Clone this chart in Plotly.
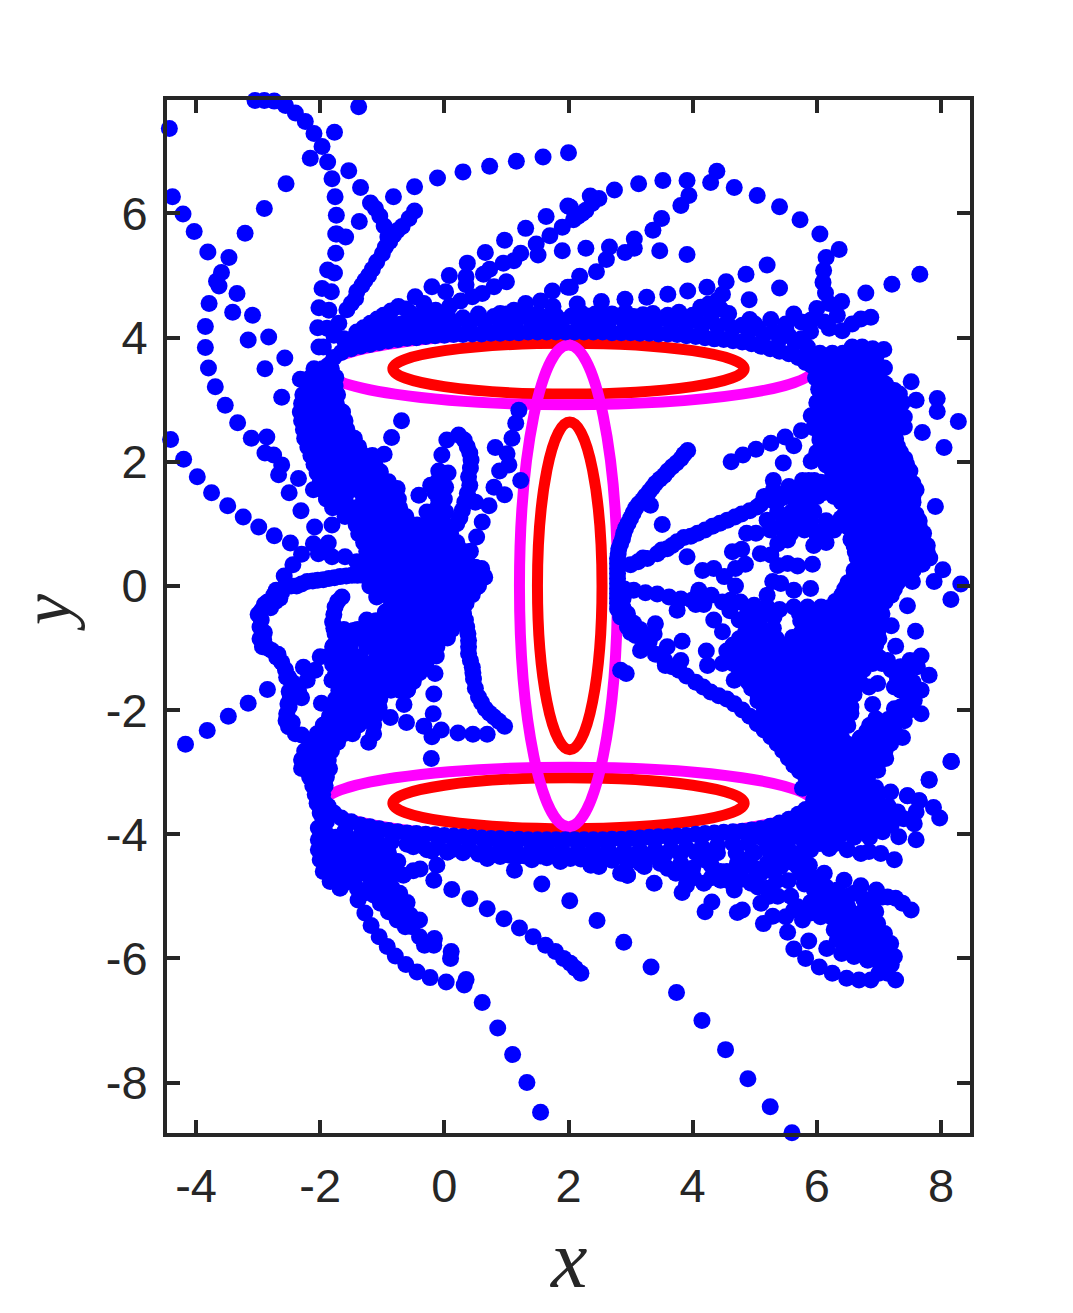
import plotly.graph_objects as go

x_ticks = [-4, -2, 0, 2, 4, 6, 8]
x_tick_labels = ["-4", "-2", "0", "2", "4", "6", "8"]
y_ticks = [-8, -6, -4, -2, 0, 2, 4, 6]
y_tick_labels = ["-8", "-6", "-4", "-2", "0", "2", "4", "6"]

# ellipses: x centre, y centre, x radius, y radius
red_ellipses = [(2, 3.5, 2.83, 0.41), (2, -3.5, 2.83, 0.41), (2.02, 0, 0.52, 2.64)]
magenta_ellipses = [(2, 3.5, 3.95, 0.58), (2, -3.5, 3.95, 0.58), (2, 0, 0.79, 3.88)]

top_left_points = [
 (-3.05,7.82),(-2.90,7.82),(-2.74,7.81),(-2.56,7.74),(-2.40,7.62),(-2.24,7.48),(-2.10,7.29),(-1.97,7.08),(-1.88,6.83),(-1.81,6.56),
 (-1.76,6.27),(-1.74,5.97),(-1.75,5.67),(-1.75,5.36),(-1.77,5.04),(-1.82,4.74),(-1.86,4.44),(-1.89,4.15),(-1.95,3.85),
 (-2.16,6.89),(-1.88,5.09),(-1.97,4.79),(-2.02,4.48),(-2.04,4.16),(-2.02,3.85),(-1.73,5.67),(-1.59,5.62),
 (-1.38,7.72),(-4.43,7.37),(-1.77,7.31),(-1.54,6.69),(-1.35,6.42),
 (-1.19,6.17),(-1.11,6.08),(-1.04,5.96),(-0.97,5.80),(-0.91,5.62),(-0.48,6.04),(-0.57,5.92),(-0.68,5.79),(-0.82,5.65),(-0.95,5.46),
 (-1.0,5.35),(-1.09,5.22),(-1.22,5.0),(-1.33,4.84),(-1.41,4.74),(-1.43,4.63),(-1.57,4.45),(-1.70,4.23),(-1.78,4.04),(-1.37,5.87),
 (-1.16,5.1),(-1.28,4.92),(-1.5,4.55),(-0.88,5.55),(-0.76,5.72),
 (-4.38,6.27),(-4.21,5.99),(-4.03,5.71),(-3.81,5.38),(-3.47,5.29),(-3.59,5.05),(-3.67,4.91),(-3.63,4.83),(-3.79,4.55),(-3.85,4.18),
 (-3.85,3.84),(-3.80,3.51),(-3.69,3.21),(-3.53,2.91),(-3.21,5.68),(-2.90,6.08),(-2.55,6.48),
 (-0.82,6.27),(-0.48,6.43),(-0.11,6.57),(0.30,6.67),(0.73,6.76),(1.16,6.84),(1.59,6.91),(2.0,6.98),
 (-3.34,4.71),(-3.41,4.41),(-3.09,4.36),(-3.16,3.96),(-2.83,4.01),(-2.57,3.67),(-2.89,3.50),(-2.62,3.04),(-2.32,3.33),
]
top_ray_points = [
 (1.0,4.9),(0.80,4.82),(0.61,4.71),(0.45,4.66),(0.26,4.59),(0.09,4.51),(-0.14,4.44),(-0.33,4.55),(-0.47,4.66),
 (1.23,5.36),(1.12,5.24),(0.95,5.2),(0.73,5.1),(0.63,5.02),
 (1.64,5.95),(1.31,5.76),(0.97,5.57),(0.66,5.37),(0.37,5.2),(0.08,5.0),(-0.2,4.82),(0.35,4.98),(0.35,4.85),(0.02,4.74),
 (1.99,6.12),(1.9,5.78),(1.7,5.64),(1.48,5.51),(1.51,5.33),(1.9,5.4),(1.99,4.81),(1.74,4.75),(1.55,4.59),(1.75,4.5),(1.31,4.55),
 (1.12,4.44),(0.9,4.39),(0.53,4.32),(0.12,4.25),(-0.25,4.18),(-0.74,4.5),(-0.98,4.36),(-1.19,4.23),(-1.41,4.09),(-1.62,3.98),
 (-0.55,4.4),(-0.3,4.3),(-0.86,4.43),(-1.08,4.3),(-1.3,4.16),(-0.62,4.46),(-0.45,4.35),
 (2.74,6.38),(3.13,6.48),(3.52,6.53),(3.91,6.53),(4.29,6.5),(4.39,6.68),(4.67,6.42),(5.04,6.29),(5.40,6.11),(5.73,5.9),(6.05,5.67),
 (6.36,5.42),(6.15,5.29),(6.11,5.08),(6.1,4.89),(6.14,4.72),(6.2,4.55),(6.4,4.58),(6.79,4.72),(7.21,4.86),(7.66,5.02),(6.87,4.33),
 (6.71,4.3),(6.57,4.22),(6.41,4.11),(6.0,4.47),(6.33,4.36),(5.63,4.38),(5.26,4.29),(4.92,4.29),(4.91,4.61),(5.4,4.8),(5.2,5.17),
 (4.86,5.02),(4.54,4.9),(4.23,4.81),(3.92,4.75),(3.6,4.7),(3.26,4.65),(2.91,4.62),(2.53,4.58),(2.14,4.54),(4.48,4.7),(4.4,4.6),
 (4.26,4.54),(4.13,4.49),(4.58,4.39),(4.45,4.46),(3.78,4.41),(3.36,4.39),(2.92,4.41),(2.43,4.38),
 (3.91,5.34),(3.47,5.4),(3.06,5.44),(3.06,5.59),(2.91,5.37),(2.66,5.46),(2.61,5.26),(2.45,5.06),(2.28,5.44),(2.18,4.99),(2.03,4.81),
 (3.36,5.73),(3.5,5.92),(3.81,6.13),(3.94,6.29),(2.35,6.28),(2.49,6.24),(2.38,6.16),(2.22,6.0),(2.08,5.9),(2.03,6.1),
 (2.28,6.05),(2.15,5.95),(5.95,4.3),(6.12,4.25),(6.2,4.15),(5.75,4.25),(5.5,4.22),
]
top_rim_points = [
 (-1.87,3.55),(-1.78,3.68),(-1.66,3.76),(-1.5,3.82),(-1.35,3.86),(-1.2,3.89),(-1.05,3.92),(-0.9,3.95),(-0.75,3.97),(-0.6,3.99),(-0.45,4.0),
 (-0.3,4.02),(-0.15,4.03),(0,4.04),(0.15,4.05),(0.3,4.05),(0.45,4.06),(0.6,4.06),(0.75,4.07),(0.9,4.07),(1.05,4.08),(1.2,4.08),(1.35,4.09),
 (1.5,4.09),(1.65,4.09),(1.8,4.09),(1.95,4.09),(2.1,4.09),(2.25,4.09),(2.4,4.09),(2.55,4.09),(2.7,4.08),(2.85,4.08),(3.0,4.08),(3.15,4.07),
 (3.3,4.07),(3.45,4.06),(3.6,4.06),(3.75,4.05),(3.9,4.03),(4.05,4.02),(4.2,4.0),(4.35,3.98),(4.5,3.97),(4.65,3.95),(4.8,3.93),(4.95,3.9),
 (5.1,3.86),(5.25,3.82),(5.4,3.78),(5.55,3.74),(5.7,3.68),(5.82,3.6),
 (-1.6,3.95),(-1.35,4.02),(-1.1,4.08),(-0.85,4.12),(-0.6,4.15),(-0.35,4.18),(-0.1,4.2),(0.15,4.21),(0.4,4.23),(0.65,4.24),(0.9,4.25),(1.15,4.25),
 (1.4,4.26),(1.65,4.26),(1.9,4.27),(2.15,4.27),(2.4,4.27),(2.65,4.26),(2.9,4.26),(3.15,4.25),(3.4,4.24),(3.65,4.23),(3.9,4.21),(4.15,4.2),
 (4.4,4.18),(4.65,4.15),(4.9,4.1),(5.15,4.05),(5.4,3.98),(5.65,3.92),(5.85,3.85),
 (-1.45,4.0),(-1.2,4.1),(-0.95,4.17),(-0.7,4.22),(-0.45,4.26),(-0.2,4.28),(0.05,4.3),(0.3,4.32),(0.55,4.33),(0.8,4.34),(1.05,4.34),(1.3,4.35),
 (1.55,4.35),(1.8,4.35),(2.05,4.35),(2.3,4.35),(2.55,4.35),(2.8,4.35),(3.05,4.34),(3.3,4.33),(3.55,4.32),(3.8,4.31),(4.05,4.3),(4.3,4.27),
 (4.55,4.24),(4.8,4.2),(5.05,4.15),(5.3,4.1),(5.55,4.03),(5.75,3.98),
 (-0.9,4.28),(-0.4,4.33),(0.05,4.36),(0.55,4.38),(1.0,4.38),(1.5,4.38),(2.2,4.4),(2.7,4.38),(3.2,4.37),(3.6,4.36),(4.0,4.36),(4.3,4.36),(5.0,4.22),(5.5,4.15),(5.9,4.1),(5.9,4.28),
]
right_outer_points = [
 (7.52,3.29),(7.6,2.99),(7.94,3.02),(7.94,2.81),(8.28,2.65),(7.7,2.47),(8.05,2.23),(7.08,3.81),(6.9,3.82),(6.73,3.85),(6.57,3.85),
 (6.65,3.74),(6.95,3.68),(7.09,3.51),(6.9,3.36),(7.11,3.25),(7.33,3.09),(7.41,2.72),(7.41,2.56),(7.27,2.37),
 (6.03,3.17),(6.01,2.96),(5.91,2.74),(5.75,2.5),(5.49,2.4),(5.26,2.3),(5.02,2.2),(4.81,2.11),(4.62,2.0),(5.63,2.26),(5.91,2.01),(5.46,1.98),(5.3,1.7),
 (8.03,0.26),(7.89,0.07),(8.32,0.03),(8.16,-0.22),(7.54,0.07),(7.46,-0.32),(7.91,1.28),(7.2,-0.64),(7.59,-0.73),(7.27,-0.97),(7.68,-1.13),(7.81,-1.44),
 (8.16,-2.83),(7.81,-3.13),(7.46,-3.38),(7.65,-3.46),
]
right_ray_points = [
 (3.92,2.18),(3.81,2.05),(3.67,1.92),(3.54,1.78),(3.4,1.65),(3.3,1.52),(3.19,1.38),(3.08,1.25),(3.0,1.09),(2.92,0.93),(2.87,0.76),(2.81,0.6),
 (2.79,0.44),(2.79,0.28),(2.79,0.12),(2.79,-0.04),(2.79,-0.2),(2.79,-0.37),(2.84,-0.5),(2.95,-0.66),(3.08,-0.8),(3.32,1.3),(3.51,0.99),
 (3.86,2.12),(3.74,1.98),(3.6,1.85),(3.47,1.72),(3.35,1.58),(3.24,1.45),(3.13,1.32),(3.04,1.17),(2.96,1.01),(2.89,0.85),(2.84,0.68),(2.8,0.52),(2.79,0.36),(2.79,0.2),
 (2.79,0.04),(2.79,-0.12),(2.79,-0.28),(2.88,-0.2),(2.9,-0.05),(2.88,-0.35),(2.95,-0.45),(3.05,-0.6),(3.15,-0.7),(3.0,-0.75),
 (3.0,0.34),(3.12,0.39),(3.27,0.44),(3.43,0.52),(3.59,0.6),(3.75,0.71),(3.91,0.47),(3.86,0.78),(4.08,0.85),(4.32,0.96),(4.56,1.06),(4.79,1.16),(5.04,1.27),
 (5.15,1.44),(5.42,1.41),(5.58,1.44),(5.77,1.7),(5.96,1.7),(6.17,1.65),(6.28,1.44),(5.85,1.33),(6.01,1.44),(5.2,1.06),(5.37,1.19),(4.87,0.85),(5.02,0.85),
 (5.77,1.03),(5.9,1.06),(5.58,0.85),(5.8,0.9),(6.01,0.79),(6.28,0.9),(6.39,1.09),(5.37,0.68),(5.53,0.74),(4.64,0.55),(4.79,0.59),(5.09,0.52),(5.26,0.5),
 (3.2,0.45),(3.5,0.58),(3.67,0.65),(3.97,0.8),(4.2,0.9),(4.44,1.01),(4.68,1.11),(4.92,1.21),(5.1,1.32),(5.3,1.37),(5.5,1.44),(5.68,1.55),(5.87,1.7),(6.06,1.67),
 (5.7,0.95),(5.48,0.8),(5.95,1.2),(6.15,1.05),(6.1,0.85),(5.45,1.0),(5.9,1.55),(5.7,1.4),
 (5.3,1.55),(5.55,1.6),(5.75,1.5),(6.1,1.5),(5.6,1.2),(5.75,1.15),(5.65,1.05),(5.9,0.95),(6.15,0.95),(5.95,0.65),(6.15,0.7),(5.25,0.9),
 (5.37,0.33),(5.53,0.36),(5.69,0.32),(5.93,0.35),(4.85,0.35),(4.69,0.28),(4.16,0.25),(4.34,0.28),(4.51,0.15),(4.69,0),(5.29,0.07),(5.42,0.04),(5.63,-0.07),
 (5.9,-0.04),(5.2,-0.15),(4.1,-0.07),(3.05,-0.07),(3.24,-0.11),(3.43,-0.13),(3.62,-0.18),(3.81,-0.21),(3.99,-0.23),(4.18,-0.3),(4.48,-0.26),(3.75,-0.39),
 (4.61,-0.23),(4.77,-0.26),(4.99,-0.31),(5.2,-0.34),(4.34,-0.55),(4.48,-0.74),(4.75,-0.55),(4.88,-0.45),(5.1,-0.5),(5.31,-0.5),(5.63,-0.34),(5.85,-0.34),
 (4.08,-0.15),(4.3,-0.15),(4.05,-0.3),(4.6,-0.4),(5.0,-0.45),(5.4,-0.38),(5.72,-0.45),(5.95,-0.5),(4.9,-0.65),(5.1,-0.68),(5.3,-0.68),
 (6.07,-0.34),(5.74,-0.56),(3.16,-1.04),(3.38,-0.77),(3.22,-0.82),(3.4,-0.61),(3.3,-0.9),(3.83,-0.89),(3.59,-0.98),(3.56,-1.28),(3.81,-1.2),(3.78,-1.36),
 (3.9,-1.45),(4.05,-1.55),(4.29,-1.71),(4.55,-1.82),(4.8,-2.0),(5.04,-2.22),(5.26,-2.43),(5.45,-2.65),(5.63,-2.89),(5.82,-3.08),(2.84,-1.36),(2.93,-1.41),
 (3.4,-1.1),(3.55,-1.2),(4.22,-1.05),(4.24,-1.28),(4.48,-1.25),(4.67,-1.52),(5.61,-0.83),(3.67,-1.3),(4.17,-1.63),(4.42,-1.77),(4.67,-1.9),(4.92,-2.1),(5.15,-2.32),
 (5.36,-2.54),(5.54,-2.77),(5.72,-2.98),
 (6.98,-1.57),(6.84,-1.63),(6.9,-1.91),(6.95,-2.14),(7.25,-1.98),(7.68,-2.06),(7.35,-1.3),(7.62,-1.3),(7.45,-1.35),(7.68,-1.68),(7.57,-1.84),(7.35,-1.68),
 (7.25,-1.63),(7.41,-2.17),(7.38,-2.44),(7.19,-2.54),(7.11,-2.78),(6.98,-2.97),(6.82,-3.08),(6.66,-3.24),(7.03,-2.38),(7.14,-1.2),(7.45,-1.5),(7.5,-2.0),
 (7.2,-2.2),(7.05,-2.5),(7.2,-1.35),(7.3,-1.5),(7.5,-1.2),(7.55,-1.55),(7.45,-1.75),(7.35,-1.95),(7.4,-2.05),(7.25,-2.35),(7.1,-2.65),(6.9,-2.85),(6.75,-3.0),
]
right_block_rows = [
 (3.75,[5.85,6.05,6.25,6.42]),
 (3.65,[5.95,6.15,6.35,6.75]),
 (3.55,[5.92,6.1,6.3,6.5,6.7,6.85]),
 (3.45,[6.0,6.2,6.4,6.6,6.8,6.95]),
 (3.35,[5.98,6.2,6.4,6.6,6.8,7.0]),
 (3.25,[6.1,6.3,6.5,6.7,6.9,7.1]),
 (3.15,[6.05,6.25,6.45,6.65,6.85,7.05,7.25]),
 (3.05,[6.1,6.3,6.5,6.7,6.9,7.1,7.3]),
 (2.95,[6.0,6.2,6.4,6.6,6.8,7.0,7.2,7.38]),
 (2.85,[6.1,6.3,6.5,6.7,6.9,7.1,7.3]),
 (2.75,[6.0,6.2,6.4,6.6,6.8,7.0,7.2]),
 (2.65,[6.1,6.3,6.5,6.7,6.9,7.1,7.3]),
 (2.55,[5.95,6.15,6.35,6.55,6.75,6.95,7.15,7.3]),
 (2.45,[6.05,6.25,6.45,6.65,6.85,7.05]),
 (2.35,[6.05,6.25,6.45,6.65,6.85,7.05,7.22]),
 (2.25,[6.1,6.3,6.5,6.7,6.9,7.1,7.3]),
 (2.15,[6.0,6.2,6.4,6.6,6.8,7.0,7.2,7.35]),
 (2.05,[6.1,6.3,6.5,6.7,6.9,7.1,7.3,7.42]),
 (1.95,[6.15,6.35,6.55,6.75,6.95,7.15,7.35,7.45]),
 (1.85,[6.25,6.45,6.65,6.85,7.05,7.25,7.5]),
 (1.75,[6.25,6.45,6.65,6.85,7.05,7.25,7.45]),
 (1.65,[6.3,6.55,6.75,6.95,7.15,7.35,7.55]),
 (1.55,[6.3,6.5,6.7,6.9,7.1,7.3,7.5,7.6]),
 (1.45,[6.4,6.6,6.8,7.0,7.2,7.4,7.55]),
 (1.35,[6.4,6.6,6.8,7.0,7.2,7.4,7.55]),
 (1.25,[6.5,6.7,6.9,7.1,7.3,7.5]),
 (1.15,[6.45,6.65,6.85,7.05,7.25,7.45,7.6]),
 (1.05,[6.55,6.75,6.95,7.15,7.35,7.55,7.65]),
 (0.95,[6.5,6.7,6.9,7.1,7.3,7.5,7.65]),
 (0.85,[6.6,6.8,7.0,7.2,7.4,7.6,7.72]),
 (0.75,[6.55,6.75,6.95,7.15,7.35,7.55,7.7]),
 (0.65,[6.6,6.8,7.0,7.2,7.4,7.6,7.78]),
 (0.55,[6.62,6.85,7.05,7.25,7.45,7.65,7.78]),
 (0.45,[6.65,6.9,7.1,7.3,7.5,7.7,7.82]),
 (0.35,[6.7,6.9,7.1,7.3,7.5,7.7]),
 (0.25,[6.6,6.8,7.0,7.2,7.4,7.55]),
 (0.15,[6.6,6.8,7.0,7.2,7.38]),
 (0.05,[6.5,6.7,6.9,7.1,7.3]),
 (-0.05,[6.45,6.65,6.85,7.05,7.25]),
 (-0.15,[6.4,6.6,6.8,7.0,7.2]),
 (-0.25,[6.3,6.5,6.7,6.9,7.1]),
 (-0.35,[6.2,6.4,6.6,6.8,7.0]),
 (-0.45,[6.15,6.35,6.55,6.75,6.95,7.05]),
 (-0.55,[6.05,6.25,6.45,6.65,6.85,7.0]),
 (-0.65,[5.85,6.05,6.3,6.5,6.7,6.9,7.0]),
 (-0.75,[4.85,5.05,5.25,5.75,5.95,6.15,6.4,6.6,6.8,6.98]),
 (-0.85,[4.75,4.95,5.15,5.35,5.85,6.05,6.25,6.45,6.65,6.85,7.0]),
 (-0.95,[4.65,4.85,5.05,5.3,5.5,5.7,5.9,6.1,6.35,6.55,6.75,6.95]),
 (-1.05,[4.55,4.75,4.95,5.2,5.4,5.6,5.8,6.0,6.2,6.45,6.65,6.85]),
 (-1.15,[4.6,4.8,5.0,5.2,5.4,5.6,5.8,6.0,6.2,6.4,6.6,6.8,7.0]),
 (-1.25,[4.65,4.85,5.05,5.25,5.45,5.65,5.85,6.05,6.25,6.45,6.7,6.9,7.05]),
 (-1.35,[4.75,4.95,5.15,5.35,5.55,5.75,5.95,6.15,6.35,6.55,6.75]),
 (-1.45,[4.8,5.0,5.2,5.4,5.6,5.8,6.0,6.25,6.45,6.65]),
 (-1.55,[4.9,5.1,5.3,5.5,5.7,5.9,6.1,6.3,6.5,6.7]),
 (-1.65,[4.95,5.15,5.35,5.55,5.75,5.95,6.15,6.35,6.6]),
 (-1.75,[5.05,5.25,5.45,5.65,5.85,6.05,6.25,6.45,6.6]),
 (-1.85,[5.05,5.25,5.45,5.65,5.85,6.05,6.25,6.45]),
 (-1.95,[5.15,5.35,5.55,5.75,5.95,6.15,6.35,6.55]),
 (-2.05,[5.15,5.35,5.55,5.75,5.95,6.15,6.35,6.55]),
 (-2.15,[5.25,5.45,5.65,5.85,6.05,6.25,6.45,6.95,7.15]),
 (-2.25,[5.3,5.5,5.7,5.9,6.1,6.3,6.5,6.85,7.05]),
 (-2.35,[5.35,5.55,5.75,5.95,6.15,6.35,6.8,7.0,7.2]),
 (-2.45,[5.4,5.6,5.8,6.0,6.2,6.4,6.7,6.9]),
 (-2.55,[5.5,5.7,5.9,6.1,6.3,6.5,6.75,7.0]),
 (-2.65,[5.55,5.75,5.95,6.15,6.35,6.55,6.75,6.95]),
 (-2.75,[5.65,5.85,6.05,6.25,6.45,6.6,6.85]),
 (-2.85,[5.7,5.9,6.1,6.3,6.5,6.8]),
 (-2.95,[5.8,6.0,6.2,6.4,6.6,6.7]),
 (-3.05,[5.9,6.1,6.3,6.5,6.65]),
 (-3.15,[5.95,6.15,6.35,6.55,6.8]),
 (-3.25,[5.95,6.15,6.35,6.55,6.75,6.95]),
 (-3.35,[6.0,6.2,6.4,6.6,6.8,7.0]),
 (-3.45,[5.95,6.15,6.35,6.55,6.75,6.95]),
 (-3.55,[5.95,6.15,6.35,6.55,6.75,6.95,7.15]),
 (-3.65,[5.85,6.05,6.25,6.45,6.65,6.85,7.05,7.3]),
 (-3.75,[5.75,5.95,6.15,6.35,6.55,6.75,6.95,7.15,7.4]),
 (-3.85,[5.6,5.8,6.0,6.2,6.4,6.6,6.8,7.0,7.2]),
 (-3.95,[5.3,5.5,5.7,5.9,6.1,6.3,6.5,6.7,6.9]),
 (-4.05,[5.1,5.35,5.6,5.85,6.1,6.35,6.6,6.85]),
 (-4.15,[4.9,5.2,5.5,5.8,6.05,6.3]),
 (-4.3,[4.4,4.7,5.0,5.25,5.55,5.75]),
]
bottom_rim_points = [
 (-1.87,-3.55),(-1.78,-3.66),(-1.66,-3.74),(-1.5,-3.8),(-1.35,-3.85),(-1.2,-3.88),(-1.05,-3.91),(-0.9,-3.94),(-0.75,-3.96),(-0.6,-3.98),(-0.45,-3.99),
 (-0.3,-4.0),(-0.15,-4.01),(0,-4.02),(0.15,-4.03),(0.3,-4.04),(0.45,-4.05),(0.6,-4.06),(0.75,-4.07),(0.9,-4.07),(1.05,-4.08),(1.2,-4.08),(1.35,-4.09),
 (1.5,-4.09),(1.65,-4.09),(1.8,-4.09),(1.95,-4.09),(2.1,-4.09),(2.25,-4.09),(2.4,-4.09),(2.55,-4.09),(2.7,-4.08),(2.85,-4.08),(3.0,-4.07),(3.15,-4.06),
 (3.3,-4.05),(3.45,-4.04),(3.6,-4.04),(3.75,-4.03),(3.9,-4.02),(4.05,-4.0),(4.2,-3.99),(4.35,-3.98),(4.5,-3.97),(4.65,-3.96),(4.8,-3.95),(4.95,-3.93),
 (5.1,-3.91),(5.25,-3.87),(5.4,-3.82),(5.55,-3.76),(5.7,-3.68),(5.82,-3.6),
 (-1.6,-3.95),(-1.35,-4.02),(-1.1,-4.08),(-0.85,-4.12),(-0.6,-4.16),(-0.35,-4.19),(-0.1,-4.2),(0.15,-4.22),(0.4,-4.23),(0.65,-4.24),(0.9,-4.25),(1.15,-4.26),
 (1.4,-4.26),(1.65,-4.26),(1.9,-4.27),(2.15,-4.27),(2.4,-4.27),(2.65,-4.27),(2.9,-4.27),(3.15,-4.26),(3.4,-4.25),(3.65,-4.24),(3.9,-4.22),(4.15,-4.2),
 (4.4,-4.18),(4.65,-4.15),(4.9,-4.1),(5.15,-4.05),
 (-0.2,-4.27),(0.05,-4.29),(0.3,-4.3),(0.55,-4.32),(0.8,-4.33),(1.05,-4.34),(1.3,-4.35),(1.55,-4.35),(1.8,-4.35),(2.05,-4.36),(2.3,-4.36),(2.55,-4.36),
 (2.8,-4.36),(3.05,-4.35),(3.3,-4.34),(3.55,-4.33),(3.8,-4.32),(4.05,-4.3),(4.3,-4.28),
 (0.69,-4.39),(0.9,-4.36),(1.41,-4.41),(1.87,-4.44),(2.03,-4.39),(2.36,-4.5),(2.49,-4.52),(2.84,-4.63),(2.95,-4.66),(2.95,-4.45),(-0.5,-4.2),(-0.28,-4.25),(0.12,-4.25),
 (1.2,-4.35),(1.65,-4.38),(2.2,-4.4),(2.7,-4.42),(3.05,-4.4),
]
bottom_left_points = [
 (1.55,-8.48),(1.33,-8.0),(1.1,-7.55),(0.86,-7.12),(0.61,-6.71),(0.35,-6.34),(0.32,-6.43),(0.03,-6.38),(-0.23,-6.31),(-0.44,-6.22),(-0.62,-6.1),
 (-0.79,-5.96),(-0.92,-5.81),(-1.05,-5.65),(-1.18,-5.47),(-1.28,-5.27),(-1.39,-5.06),
 (2.2,-6.24),(2.11,-6.16),(2.03,-6.08),(1.92,-6.0),(1.79,-5.89),(1.63,-5.79),(1.43,-5.65),(1.21,-5.51),(0.96,-5.36),(0.69,-5.2),(0.41,-5.04),(0.12,-4.89),
 (-0.17,-4.74),(-0.12,-4.5),(-0.39,-4.56),(-0.5,-4.59),(-0.66,-4.66),(-0.75,-4.44),
 (1.13,-4.58),(1.57,-4.8),(2.02,-5.07),(2.46,-5.39),(2.89,-5.74),(3.33,-6.14),(3.74,-6.55),(4.15,-7.0),(4.53,-7.47),(4.89,-7.94),(5.25,-8.39),(5.6,-8.81),
 (0.11,-5.89),(0.1,-6.0),(-0.16,-5.68),(-0.17,-5.79),(-0.32,-5.79),(-0.4,-5.65),(-0.4,-5.38),(-0.52,-5.49),(-0.63,-5.49),(-0.76,-5.38),(-0.9,-5.25),
 (-1.03,-5.11),(-1.14,-4.98),(-0.66,-5.17),(-0.77,-5.0),(-0.93,-4.82),(-1.09,-4.63),(-1.46,-4.74),(-1.68,-4.87),(-1.84,-4.76),(-1.95,-4.6),(-2.0,-4.41),
 (-2.03,-4.25),(-2.03,-4.09),(-2.03,-3.9),(-2.0,-3.66),(-1.3,-4.95),(-1.46,-4.52),(-1.68,-4.57),(-1.68,-4.31),(-1.41,-4.31),(-1.14,-4.41),(-1.03,-4.52),
 (-0.87,-4.68),(-1.85,-4.2),(-1.85,-4.45),(-1.55,-4.15),(-1.25,-4.2),(-1.25,-4.65),(-1.55,-4.65),
 (-0.55,-5.3),(-0.7,-5.32),(-0.85,-5.12),(-1.0,-4.95),(-1.12,-4.82),(-0.98,-4.72),(-0.85,-4.85),(-0.72,-4.95),(-0.6,-5.1),
 (-1.9,-3.8),(-1.9,-4.0),(-1.75,-4.05),(-1.75,-4.2),(-1.9,-4.35),(-1.75,-4.45),(-1.9,-4.6),(-1.75,-4.68),(-1.6,-4.78),(-1.4,-4.88),(-1.2,-4.85),
 (-1.6,-4.05),(-1.45,-4.1),(-1.3,-4.1),(-1.15,-4.22),(-1.0,-4.25),(-0.9,-4.3),(-1.6,-4.25),(-1.45,-4.22),(-1.3,-4.3),(-1.55,-4.42),(-1.4,-4.45),(-1.25,-4.45),
 (-1.1,-4.32),(-0.95,-4.42),(-1.6,-4.52),(-1.35,-4.6),(-1.2,-4.55),(-1.1,-4.75),(-1.45,-4.62),(-0.85,-4.52),
]
bottom_right_points = [
 (5.77,-3.26),(7.81,-3.12),(8.17,-2.83),(7.19,-3.32),(7.46,-3.38),(7.65,-3.46),(7.88,-3.57),(7.98,-3.74),(7.6,-3.64),(7.57,-3.83),(7.6,-4.09),(7.32,-4.04),
 (7.06,-3.96),(7.3,-3.64),(6.87,-3.5),(7.25,-4.41),(7.03,-4.31),(6.84,-4.28),(6.71,-4.31),(6.49,-4.25),(6.2,-4.23),
 (7.52,-5.22),(7.38,-5.11),(7.27,-5.03),(7.14,-5.01),(7.06,-5.01),(6.96,-4.9),(6.71,-4.83),(6.44,-4.74),(6.12,-4.63),(5.88,-4.5),(5.69,-4.52),
 (7.27,-6.35),(6.87,-6.35),(6.68,-6.35),(6.48,-6.32),(6.25,-6.24),(6.04,-6.14),(5.82,-6.0),(5.63,-5.85),(5.87,-5.72),(5.53,-5.58),(6.16,-5.84),(6.4,-5.92),
 (6.6,-5.97),(6.82,-6.03),(7.0,-6.24),(7.14,-6.24),(7.25,-5.97),(7.19,-5.76),(7.09,-5.6),(6.98,-5.44),(6.84,-5.25),(6.76,-5.06),(6.6,-4.95),(7.05,-6.1),
 (6.98,-5.92),(6.82,-5.87),(6.6,-5.81),(6.33,-5.7),(6.28,-5.54),(6.5,-5.65),(6.71,-5.65),(6.87,-5.65),(6.6,-5.44),(6.39,-5.33),(6.71,-5.27),(6.5,-5.17),
 (6.23,-5.33),(6.06,-5.33),(5.9,-5.27),(5.77,-5.38),(5.63,-5.22),(5.5,-5.33),(5.29,-5.32),(5.14,-5.44),(5.1,-5.11),(5.23,-5.0),(5.37,-5.0),(5.2,-4.87),
 (5.58,-5.0),(5.69,-5.17),(6.06,-5.06),(6.17,-5.06),(5.96,-4.9),(5.74,-4.63),(6.06,-4.74),(6.33,-4.9),(6.5,-5.0),(6.3,-5.1),(6.85,-5.45),(6.7,-5.45),
 (6.85,-5.05),(6.95,-5.25),(7.0,-5.7),(7.12,-5.95),(7.2,-6.1),(7.1,-5.8),(6.95,-5.55),(6.75,-5.75),(6.45,-5.8),(6.45,-5.5),(6.6,-5.6),(6.85,-5.98),(7.0,-6.05),
 (6.45,-5.05),(6.25,-5.0),(6.15,-4.85),(5.95,-4.7),(5.8,-4.8),(5.9,-5.1),(6.35,-5.2),(6.55,-5.3),(6.1,-5.2),(6.9,-5.12),(6.8,-5.4),
 (5.54,-4.75),(4.8,-5.22),(4.72,-5.26),(4.31,-5.09),(4.2,-5.25),(3.83,-4.94),(3.38,-4.79),(2.95,-4.66),(3.22,-4.52),(3.73,-4.63),(3.91,-4.68),(4.18,-4.79),
 (4.45,-4.74),(4.67,-4.9),(4.94,-4.79),(5.1,-4.63),(4.77,-4.58),(4.45,-4.6),(5.42,-4.52),(5.2,-4.47),(4.72,-4.47),(4.18,-4.41),(3.81,-4.47),(3.48,-4.47),
 (3.16,-4.47),(4.0,-4.55),(4.3,-4.5),(4.9,-4.4),(5.4,-4.25),(5.6,-4.3),(5.9,-4.25),
 (4.3,-4.7),(4.58,-4.75),(4.8,-4.72),(4.55,-4.6),(5.0,-4.55),(5.3,-4.6),(5.6,-4.45),(5.05,-4.85),(5.35,-4.75),(5.35,-4.4),(3.9,-4.82),(4.02,-4.7),(3.6,-4.55),
]
left_outer_points = [
 (-2.86,2.4),(-3.11,2.38),(-3.33,2.63),(-2.89,2.14),(-2.75,2.11),(-2.62,1.95),(-2.67,1.79),(-2.35,1.73),(-2.5,1.5),(-2.31,1.21),(-2.11,1.55),(-2.09,0.95),
 (-4.41,2.36),(-4.2,2.04),(-3.98,1.76),(-3.75,1.5),(-3.49,1.29),(-3.24,1.11),(-2.99,0.95),(-2.74,0.81),(-2.48,0.69),(-2.3,0.51),(-2.44,0.34),(-2.58,0.16),
 (-2.71,-0.07),(-2.85,-0.26),(-3,-0.46),(-2.97,-0.66),(-2.91,-0.87),(-2.78,-1.04),(-2.62,-1.23),(-2.51,-1.47),(-2.38,-1.63),(-2.48,-1.79),(-2.54,-2.06),
 (-2.51,-2.27),(-2.4,-2.38),(-2.85,-1.67),(-3.16,-1.89),(-3.48,-2.1),(-3.82,-2.33),(-4.17,-2.55),
 (-2.55,0.02),(-2.65,-0.2),(-2.8,-0.35),(-2.95,-0.55),(-2.85,-1.0),(-2.7,-1.15),(-2.45,-1.55),(-2.5,-1.95),(-2.45,-2.2),(-2.9,-0.75),(-2.95,-0.4),(-2.93,-0.98),
 (-2.75,-0.15),(-2.47,0.0),(-2.56,-1.35),(-2.5,-1.7),(-2.52,-1.9),(-2.55,-2.17),(-2.3,-1.8),(-2.3,-2.4),(-2.9,-0.3),(-2.97,-0.85),(-2.68,-1.1),(-2.72,-0.25),(-2.62,-0.1),
 (-2.11,0.68),(-1.87,0.69),(-2.03,0.52),(-1.81,0.47),(-1.6,0.47),(-1.41,0.39),(-1.22,0.33),(-1.81,0.98),
 (-2.38,0),(-2.21,0.07),(-2.04,0.09),(-1.86,0.12),(-1.68,0.15),(-1.49,0.17),(-1.3,0.17),(-2.3,0.03),(-2.12,0.08),(-1.95,0.1),(-1.77,0.13),(-1.58,0.16),(-1.4,0.17),
 (-1.65,-0.18),(-1.76,-0.34),(-1.8,-0.58),(-1.76,-0.77),(-1.78,-0.96),(-1.46,-0.72),(-1.25,-0.55),(-1.09,-0.18),(-2,-1.14),(-2.27,-1.31),(-2.08,-1.36),
 (-2.54,-1.47),(-2.21,-1.52),(-2.35,-1.68),(-1.98,-1.89),(-1.81,-1.52),(-1.73,-1.31),(-1.68,-1.09),(-1.49,-1.31),(-1.35,-1.14),(-1.25,-0.98),(-1.62,-0.7),
 (-1.72,-0.25),(-1.78,-0.46),(-1.78,-0.68),
 (-0.82,-1.63),(-0.59,-1.67),(-0.65,-1.91),(-0.87,-2.12),(-0.61,-2.2),(-0.33,-2.26),(-0.2,-2.43),(-0.05,-2.32),(0.22,-2.37),(0.46,-2.39),(0.69,-2.39),
 (-0.21,-2.78),(-0.18,-2.06),(-0.17,-1.74),(-0.15,-1.41),(-0.13,-1.13),(-0.09,-0.88),(-0.06,-0.66),
 (0.97,-2.26),(0.8,-2.11),(0.66,-1.98),(0.55,-1.79),(0.47,-1.5),(0.45,-1.31),(0.39,-1.09),(0.39,-0.88),(0.36,-0.66),(0.31,-0.45),(0.33,-0.2),(0.52,-0.02),
 (0.88,-2.18),(0.73,-2.05),(0.6,-1.88),(0.5,-1.65),(0.46,-1.4),(0.42,-1.2),(0.39,-0.98),(0.38,-0.77),(0.34,-0.55),
 (0.63,0.17),(0.5,0.3),(0.42,0.56),(0.52,0.79),(0.61,1.03),(0.72,1.29),(0.5,1.35),(0.4,1.4),(0.23,2.43),(0.04,2.35),(-0.04,2.11),(-0.09,1.85),(0.06,1.82),
 (0.02,1.59),(-0.22,1.62),(-0.41,1.46),(-0.09,1.38),(0.02,1.19),(-0.28,1.19),(-0.17,1.06),(0.37,2.24),(0.43,2.03),(0.39,1.76),(0.37,1.49),(0.29,1.22),(0.2,1.0),
 (0.1,0.85),(0.32,2.35),(0.42,1.9),(0.41,2.14),(0.41,1.62),(0.33,1.35),(0.25,1.1),(-0.69,2.66),(-0.85,2.39),(-0.97,2.12),(-1.03,1.84),(-0.76,1.57),(0.82,2.23),(1.01,2.13),(1.09,2.38),(1.15,2.62),(1.2,2.83),
 (1.04,1.95),(0.89,1.85),(0.8,1.59),(0.97,1.47),(1.23,1.7),
 (-0.05,1.0),(0.05,0.95),(-0.12,1.25),(-0.15,1.5),(0.0,1.4),(-0.1,1.7),
]
left_block_rows = [
 (3.5,[-2.1,-1.96,-1.82]),
 (3.36,[-2.15,-2.0,-1.86,-1.75]),
 (3.22,[-2.2,-2.05,-1.9,-1.76]),
 (3.08,[-2.28,-2.12,-1.98,-1.84,-1.72]),
 (2.94,[-2.3,-2.16,-2.02,-1.88,-1.74]),
 (2.8,[-2.32,-2.18,-2.04,-1.9,-1.76,-1.64]),
 (2.66,[-2.3,-2.16,-2.02,-1.88,-1.74,-1.6]),
 (2.52,[-2.27,-2.13,-1.99,-1.85,-1.71,-1.57]),
 (2.38,[-2.25,-2.1,-1.96,-1.82,-1.68,-1.54,-1.45]),
 (2.24,[-2.2,-2.06,-1.92,-1.78,-1.64,-1.5,-1.38]),
 (2.1,[-2.15,-2.0,-1.86,-1.72,-1.58,-1.44,-1.3,-1.16]),
 (1.96,[-2.1,-1.96,-1.82,-1.68,-1.54,-1.4,-1.26,-1.12]),
 (1.82,[-2.05,-1.9,-1.76,-1.62,-1.48,-1.34,-1.2,-1.08]),
 (1.68,[-2.0,-1.86,-1.72,-1.58,-1.44,-1.3,-1.16,-1.02,-0.9]),
 (1.54,[-1.95,-1.8,-1.66,-1.52,-1.38,-1.24,-1.1,-0.96,-0.85]),
 (1.4,[-1.9,-1.74,-1.6,-1.3,-1.16,-1.02,-0.88,-0.74]),
 (1.26,[-1.8,-1.66,-1.42,-1.28,-1.14,-1.0,-0.86,-0.72]),
 (1.12,[-1.6,-1.46,-1.32,-1.18,-1.04,-0.9,-0.76,-0.62]),
 (0.98,[-1.42,-1.28,-1.14,-1.0,-0.86,-0.72,-0.58,-0.44,-0.3]),
 (0.84,[-1.38,-1.24,-1.1,-0.96,-0.82,-0.68,-0.54,-0.4,-0.26,-0.12,0.0]),
 (0.7,[-1.3,-1.16,-1.02,-0.88,-0.74,-0.6,-0.46,-0.32,-0.18,-0.04,0.1,0.2]),
 (0.56,[-1.25,-1.1,-0.96,-0.82,-0.68,-0.54,-0.4,-0.26,-0.12,0.02,0.16,0.3]),
 (0.42,[-1.2,-1.04,-0.9,-0.76,-0.62,-0.48,-0.34,-0.2,-0.06,0.08,0.22,0.36]),
 (0.28,[-1.36,-1.22,-1.08,-0.94,-0.8,-0.66,-0.52,-0.38,-0.24,-0.1,0.04,0.18,0.32,0.46,0.6]),
 (0.14,[-1.2,-1.06,-0.92,-0.78,-0.64,-0.5,-0.36,-0.22,-0.08,0.06,0.2,0.34,0.48,0.62,0.65]),
 (0.0,[-1.2,-1.06,-0.92,-0.78,-0.64,-0.5,-0.36,-0.22,-0.08,0.06,0.2,0.34,0.48,0.55]),
 (-0.14,[-0.95,-0.8,-0.66,-0.52,-0.38,-0.24,-0.1,0.04,0.18,0.32,0.45]),
 (-0.28,[-0.85,-0.71,-0.57,-0.43,-0.29,-0.15,-0.01,0.13,0.27,0.35]),
 (-0.42,[-0.95,-0.81,-0.67,-0.53,-0.39,-0.25,-0.11,0.03,0.17,0.3]),
 (-0.56,[-1.1,-0.96,-0.82,-0.68,-0.54,-0.4,-0.26,-0.12,0.02,0.16,0.2]),
 (-0.7,[-1.4,-1.26,-1.12,-0.98,-0.84,-0.7,-0.56,-0.42,-0.28,-0.14,0.0,0.12]),
 (-0.84,[-1.65,-1.51,-1.37,-1.23,-1.09,-0.95,-0.81,-0.67,-0.53,-0.39,-0.25,-0.11,0.05]),
 (-0.98,[-1.8,-1.66,-1.52,-1.1,-0.96,-0.82,-0.68,-0.54,-0.4,-0.26,-0.12]),
 (-1.12,[-1.85,-1.7,-1.56,-1.08,-0.94,-0.8,-0.66,-0.52,-0.38,-0.24]),
 (-1.26,[-1.8,-1.65,-1.2,-1.06,-0.92,-0.78,-0.64,-0.5,-0.36,-0.3]),
 (-1.4,[-1.75,-1.6,-1.46,-1.32,-1.18,-1.04,-0.9,-0.76,-0.62,-0.48,-0.4]),
 (-1.54,[-1.7,-1.56,-1.42,-1.28,-1.14,-1.0,-0.86,-0.72,-0.58,-0.5]),
 (-1.68,[-1.7,-1.56,-1.42,-1.28,-1.14,-1.0,-0.86,-0.72,-0.6]),
 (-1.82,[-1.75,-1.6,-1.46,-1.32,-1.18,-1.04]),
 (-1.96,[-1.75,-1.62,-1.48,-1.34,-1.2,-1.05]),
 (-2.1,[-1.85,-1.7,-1.56,-1.42,-1.28,-1.12]),
 (-2.24,[-1.95,-1.8,-1.66,-1.52,-1.38,-1.14]),
 (-2.38,[-2.05,-1.9,-1.76,-1.62,-1.48,-1.14]),
 (-2.52,[-2.15,-2.0,-1.86,-1.72,-1.22]),
 (-2.66,[-2.25,-2.1,-1.96,-1.82]),
 (-2.8,[-2.3,-2.15,-2.0,-1.87]),
 (-2.94,[-2.3,-2.15,-2.0,-1.85]),
 (-3.08,[-2.17,-2.03,-1.9]),
 (-3.22,[-2.12,-2.0,-1.92]),
 (-3.36,[-2.08,-1.96]),
 (-3.5,[-2.05,-1.93]),
]

point_groups = [top_left_points, top_ray_points, top_rim_points, right_outer_points, right_ray_points,
                bottom_rim_points, bottom_left_points, bottom_right_points, left_outer_points]
row_groups = [right_block_rows, left_block_rows]

blue_x, blue_y = [], []
for group in point_groups:
    for px, py in group:
        blue_x.append(px)
        blue_y.append(py)
for group in row_groups:
    for py, xs in group:
        for px in xs:
            blue_x.append(px)
            blue_y.append(py)

fig = go.Figure()
fig.add_trace(go.Scatter(x=blue_x, y=blue_y, mode="markers", cliponaxis=False,
                         marker=dict(color="#0000ff", size=17, line=dict(width=0)),
                         hoverinfo="skip", showlegend=False))

shapes = []
for color, ellipses in (("#ff0000", red_ellipses), ("#ff00ff", magenta_ellipses)):
    for cx, cy, rx, ry in ellipses:
        shapes.append(dict(type="circle", xref="x", yref="y", x0=cx - rx, x1=cx + rx, y0=cy - ry, y1=cy + ry,
                           line=dict(color=color, width=11), layer="below"))

axis_style = dict(showgrid=False, zeroline=False, showline=True, linecolor="#262626", linewidth=4,
                  mirror="allticks", ticks="inside", ticklen=13, tickwidth=4, tickcolor="#262626",
                  tickfont=dict(family="Liberation Sans", size=47, color="#262626"))

fig.update_layout(
    width=1065, height=1305, autosize=False, paper_bgcolor="white", plot_bgcolor="white",
    margin=dict(l=159, r=103, t=92, b=180), showlegend=False, shapes=shapes,
    xaxis=dict(range=[-4.468, 8.468], tickvals=x_ticks, ticktext=x_tick_labels, ticklabelstandoff=9, **axis_style),
    yaxis=dict(range=[-8.813, 7.828], tickvals=y_ticks, ticktext=y_tick_labels, ticklabelstandoff=6, **axis_style),
    annotations=[
        dict(text="<i>x</i>", xref="paper", yref="paper", x=0.4994, y=-0.122, xanchor="center", yanchor="middle",
             showarrow=False, font=dict(family="Liberation Serif", size=82, color="#262626")),
        dict(text="<i>y</i>", xref="paper", yref="paper", x=-0.15, y=0.504, xanchor="center", yanchor="middle",
             textangle=-90, showarrow=False, font=dict(family="Liberation Serif", size=70, color="#262626")),
    ],
)
fig.write_html("out.html")
